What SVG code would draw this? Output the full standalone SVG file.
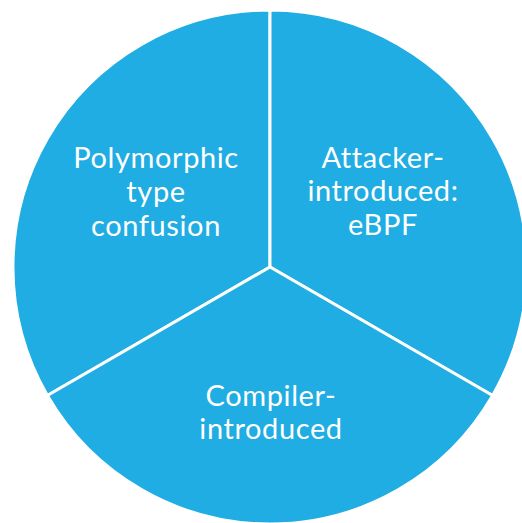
<svg xmlns="http://www.w3.org/2000/svg" width="522" height="523" viewBox="0 0 522 523">
  <style>
    .wedge { fill: #1FADE3; stroke: #FFFFFF; stroke-width: 3; stroke-linejoin: round; }
    .label { fill: #FFFFFF; font-family: Lato, "Open Sans", sans-serif; font-size: 29px; letter-spacing: 0.6px; text-anchor: middle; }
  </style>
  <rect width="522" height="523" fill="#FFFFFF"/>
  <g id="node-polymorphic">
    <path class="wedge" d="M270,267 L270,10 A257,257 0 0 0 47.4,395.5 Z"/>
    <text class="label" x="156" y="168">Polymorphic</text>
    <text class="label" x="156" y="202">type</text>
    <text class="label" x="156" y="236">confusion</text>
  </g>
  <g id="node-attacker">
    <path class="wedge" d="M270,267 L270,10 A257,257 0 0 1 492.6,395.5 Z"/>
    <text class="label" x="383" y="168">Attacker-</text>
    <text class="label" x="383" y="201">introduced:</text>
    <text class="label" x="383" y="235">eBPF</text>
  </g>
  <g id="node-compiler">
    <path class="wedge" d="M270,267 L492.6,395.5 A257,257 0 0 1 47.4,395.5 Z"/>
    <text class="label" x="271" y="406">Compiler-</text>
    <text class="label" x="271" y="439">introduced</text>
  </g>
  <g id="connectors"></g>
</svg>
